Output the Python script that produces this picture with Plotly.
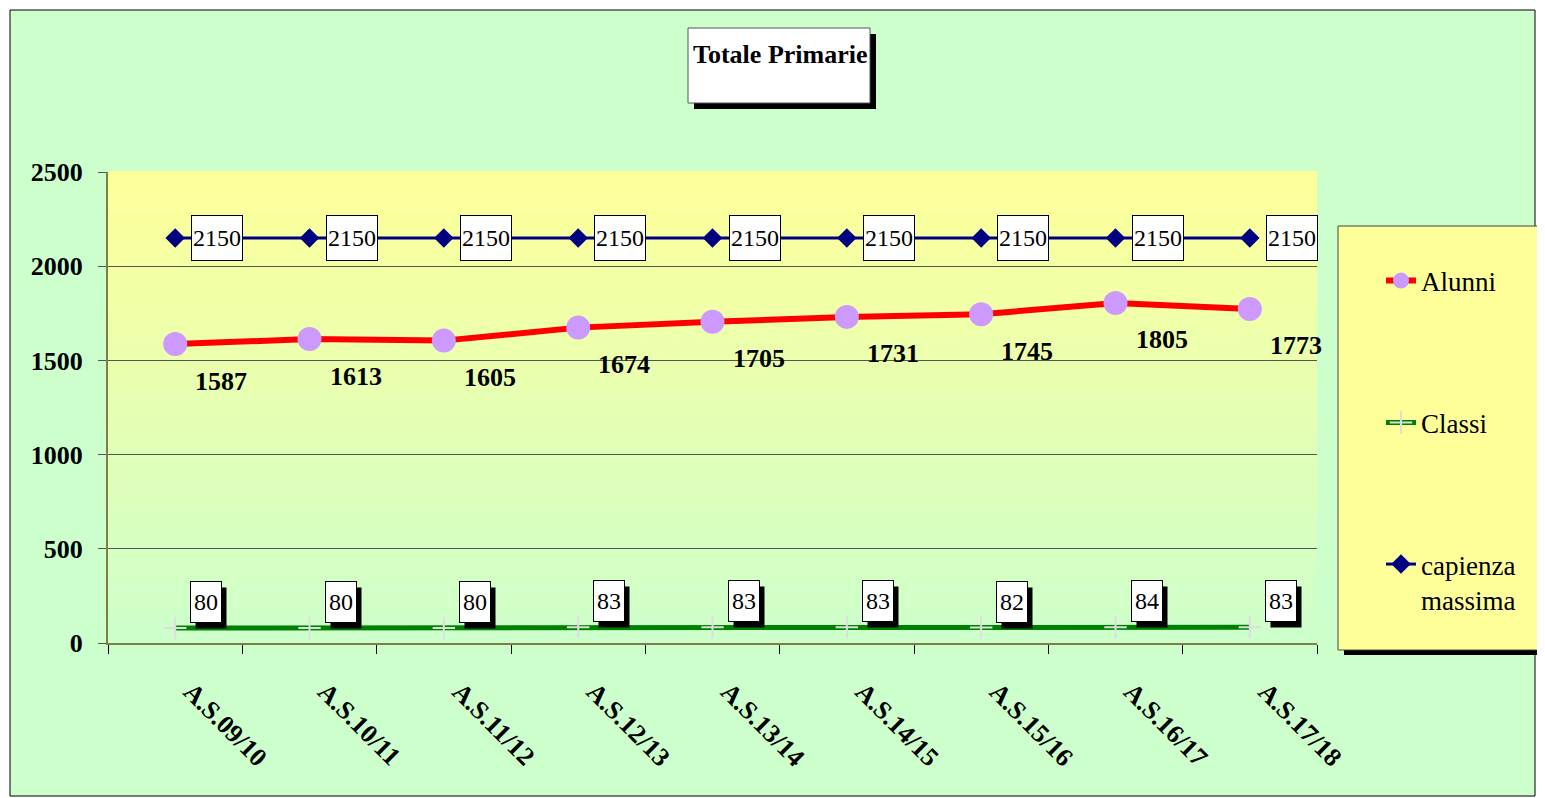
import plotly.graph_objects as go

categories = ["A.S.09/10", "A.S.10/11", "A.S.11/12", "A.S.12/13", "A.S.13/14",
              "A.S.14/15", "A.S.15/16", "A.S.16/17", "A.S.17/18"]
alunni = [1587, 1613, 1605, 1674, 1705, 1731, 1745, 1805, 1773]
classi = [80, 80, 80, 83, 83, 83, 82, 84, 83]
capienza = [2150, 2150, 2150, 2150, 2150, 2150, 2150, 2150, 2150]
y_ticks = [0, 500, 1000, 1500, 2000, 2500]

OFF = 8  # page body margin
W, H = 1545 - OFF, 798 - OFF
ML, MT = 108 - OFF, 172 - OFF
MR, MB = W - (1317 - OFF), H - (643 - OFF)
PW, PH = W - ML - MR, H - MT - MB
FONT = "Liberation Serif"


def px(x):
    # x given in screenshot pixels
    return (x - OFF - ML) / PW


def py(y):
    return (H - MB - (y - OFF)) / PH


fig = go.Figure()

fig.add_trace(go.Scatter(
    x=categories, y=capienza, name="capienza<br>massima", mode="lines+markers",
    line=dict(color="#000080", width=3),
    marker=dict(symbol="diamond", size=15, color="#000080"),
    legend="legend3", cliponaxis=False))
fig.add_trace(go.Scatter(
    x=categories, y=alunni, name="Alunni", mode="lines+markers",
    line=dict(color="#FF0000", width=6),
    marker=dict(symbol="circle", size=24, color="#CC99FF"),
    legend="legend", cliponaxis=False))
fig.add_trace(go.Scatter(
    x=categories, y=classi, name="Classi", mode="lines+markers",
    line=dict(color="#008000", width=5),
    marker=dict(symbol="cross-thin", size=16, line=dict(color="#DDDDDD", width=2)),
    legend="legend2", cliponaxis=False))

shapes = []
shapes.append(dict(type="rect", xref="paper", yref="paper", layer="below",
                   x0=px(10), x1=px(1535), y0=py(796), y1=py(10),
                   fillcolor="#CCFFCC", line=dict(color="black", width=1)))
N = 80
c0 = (255, 255, 153)
c1 = (204, 255, 204)
for k in range(N):
    t = (k + 0.5) / N
    col = tuple(round(c0[j] + (c1[j] - c0[j]) * t) for j in range(3))
    shapes.append(dict(type="rect", xref="paper", yref="paper", layer="below",
                       x0=0, x1=1, y0=1 - (k + 1) / N, y1=1 - k / N + 0.002,
                       fillcolor="rgb(%d,%d,%d)" % col, line=dict(width=0)))
shapes.append(dict(type="rect", xref="paper", yref="paper", layer="below",
                   x0=px(694), x1=px(876), y0=py(109), y1=py(34),
                   fillcolor="black", line=dict(width=0)))
shapes.append(dict(type="rect", xref="paper", yref="paper", layer="below",
                   x0=px(688), x1=px(870), y0=py(103), y1=py(28),
                   fillcolor="white", line=dict(color="#555555", width=1)))
shapes.append(dict(type="rect", xref="paper", yref="paper", layer="below",
                   x0=px(1344), x1=px(1545), y0=py(655), y1=py(232),
                   fillcolor="black", line=dict(width=0)))
shapes.append(dict(type="rect", xref="paper", yref="paper", layer="below",
                   x0=px(1338), x1=px(1539), y0=py(650), y1=py(226),
                   fillcolor="#FFFF99", line=dict(color="#444444", width=1)))

annotations = []
annotations.append(dict(xref="paper", yref="paper", x=px(780), y=py(54),
                        xanchor="center", yanchor="middle",
                        text="<b>Totale Primarie</b>", showarrow=False,
                        font=dict(family=FONT, size=26, color="black")))
for c, v in zip(categories, alunni):
    annotations.append(dict(x=c, y=v, text="<b>%d</b>" % v, showarrow=False,
                            xshift=46, yshift=-37,
                            font=dict(family=FONT, size=26, color="black")))
for c, v in zip(categories, capienza):
    annotations.append(dict(x=c, y=v, text="%d" % v, showarrow=False,
                            xshift=42, yshift=0, width=50, height=44,
                            bgcolor="white", bordercolor="black", borderwidth=1,
                            borderpad=0, font=dict(family=FONT, size=24, color="black")))
for c, v in zip(categories, classi):
    annotations.append(dict(x=c, y=v, text="", showarrow=False,
                            xshift=36, yshift=20, width=30, height=40,
                            bgcolor="black", borderpad=0))
    annotations.append(dict(x=c, y=v, text="%d" % v, showarrow=False,
                            xshift=31, yshift=26, width=30, height=40,
                            bgcolor="white", bordercolor="black", borderwidth=1,
                            borderpad=0, font=dict(family=FONT, size=24, color="black")))

leg_common = dict(bgcolor="rgba(0,0,0,0)", borderwidth=0,
                  font=dict(family=FONT, size=27, color="black"),
                  xanchor="left", x=px(1381), yanchor="middle")

fig.update_layout(
    width=W, height=H, showlegend=True,
    margin=dict(l=ML, r=MR, t=MT, b=MB, pad=0),
    paper_bgcolor="white", plot_bgcolor="rgba(0,0,0,0)",
    shapes=shapes, annotations=annotations,
    legend=dict(**leg_common, y=py(281)),
    legend2=dict(**leg_common, y=py(423)),
    legend3=dict(**leg_common, y=py(582), valign="top"),
    xaxis=dict(type="category", categoryorder="array", categoryarray=categories,
               range=[-0.5, len(categories) - 0.5],
               tickson="boundaries", ticks="outside", ticklen=9, tickcolor="black",
               showgrid=False, showline=True, linecolor="#7F7F40", linewidth=2,
               tickangle=45, ticklabelstandoff=21, ticklabelshift=16,
               tickfont=dict(family=FONT, size=26, color="black", weight="bold"),
               zeroline=False),
    yaxis=dict(range=[0, 2500], tickvals=y_ticks, ticks="outside", ticklen=8,
               tickcolor="#555555", showgrid=True, gridcolor="#555555", gridwidth=1,
               showline=True, linecolor="#7F7F40", linewidth=2, zeroline=False,
               ticklabelstandoff=10,
               tickfont=dict(family=FONT, size=26, color="black", weight="bold")),
)

fig.write_html("out.html")
